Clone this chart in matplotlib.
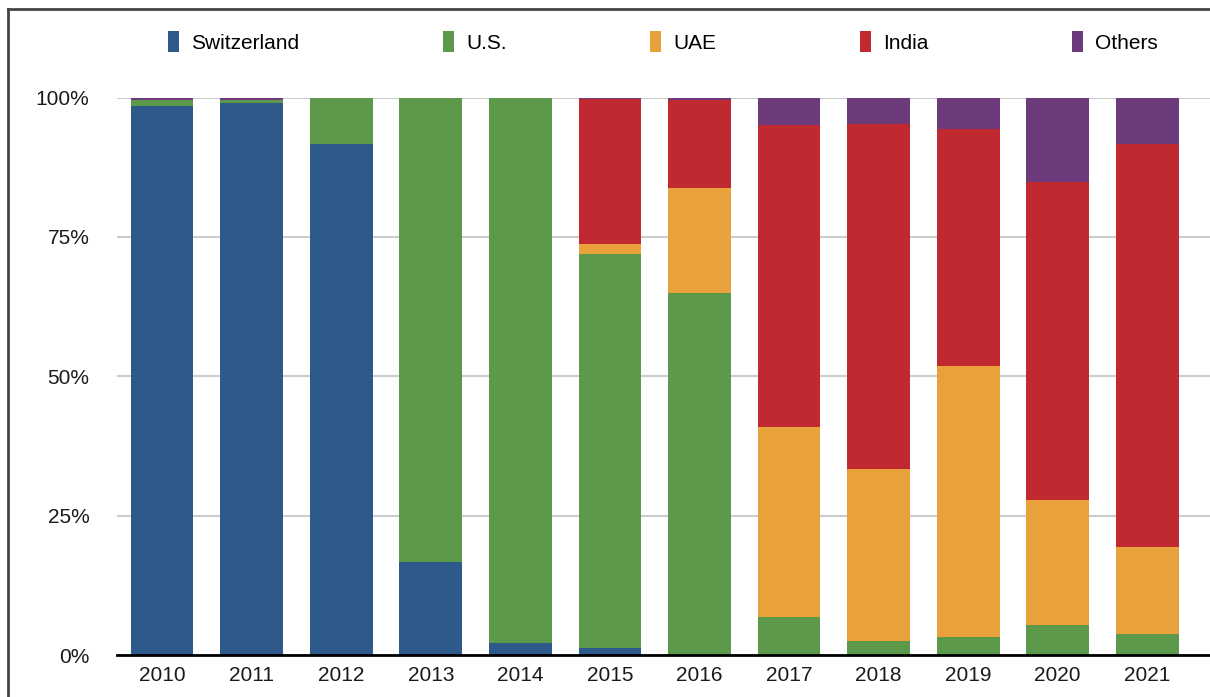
import matplotlib.pyplot as plt
import numpy as np
from matplotlib.lines import Line2D

# Share of each country per year (%)
years = ['2010', '2011', '2012', '2013', '2014', '2015', '2016', '2017', '2018', '2019', '2020', '2021']
switzerland = [98.5, 99.1, 91.6, 16.7, 2.2, 1.3, 0.0, 0.0, 0.0, 0.0, 0.0, 0.0]
us = [1.0, 0.5, 8.4, 83.3, 97.8, 70.7, 64.9, 6.8, 2.5, 3.2, 5.4, 3.8]
uae = [0.0, 0.0, 0.0, 0.0, 0.0, 1.7, 18.8, 34.2, 30.8, 48.6, 22.4, 15.6]
india = [0.0, 0.0, 0.0, 0.0, 0.0, 26.1, 15.8, 54.0, 62.0, 42.6, 57.1, 72.2]
others = [0.5, 0.4, 0.0, 0.0, 0.0, 0.2, 0.5, 5.0, 4.7, 5.6, 15.1, 8.4]

series = [('Switzerland', switzerland, '#2d5a8b'),
          ('U.S.', us, '#5d994a'),
          ('UAE', uae, '#e9a23b'),
          ('India', india, '#c0292f'),
          ('Others', others, '#6d3a7c')]

plt.rcParams['font.family'] = ['Liberation Sans', 'DejaVu Sans']

fig = plt.figure(figsize=(12.1, 6.97), dpi=100)
ax = fig.add_axes([0.097, 0.06, 0.903, 0.80])

x = np.arange(len(years))
bottom = np.zeros(len(years))
handles = []
for name, vals, col in series:
    vals = np.array(vals)
    b = ax.bar(x, vals, 0.70, bottom=bottom, color=col, label=name, zorder=3)
    bottom += vals
    handles.append(b)

ax.set_xlim(-0.5, 11.7)
ax.set_ylim(0, 100)
ax.set_yticks([0, 25, 50, 75, 100])
ax.set_yticklabels(['0%', '25%', '50%', '75%', '100%'])
ax.set_xticks(x)
ax.set_xticklabels(years)
ax.tick_params(axis='both', length=0, labelsize=15, colors='#1a1a1a')
ax.tick_params(axis='y', pad=20)
ax.tick_params(axis='x', pad=8)
ax.grid(axis='y', color='#cccccc', linewidth=1.5, zorder=0)
for s in ['left', 'right', 'top']:
    ax.spines[s].set_visible(False)
ax.spines['bottom'].set_color('black')
ax.spines['bottom'].set_linewidth(2)
ax.spines['bottom'].set_zorder(4)

fig.legend(handles=handles, loc='center', bbox_to_anchor=(0.548, 0.94), ncol=5,
           frameon=False, fontsize=15, handlelength=0.5, handleheight=1.2,
           handletextpad=0.6, columnspacing=6.9)

# frame lines at top and left of the picture
fig.add_artist(Line2D([0.007, 1.0], [0.987, 0.987], color='#444444', linewidth=2, transform=fig.transFigure))
fig.add_artist(Line2D([0.007, 0.007], [0.0, 0.987], color='#444444', linewidth=2, transform=fig.transFigure))

fig.savefig('out.png', dpi=100)
